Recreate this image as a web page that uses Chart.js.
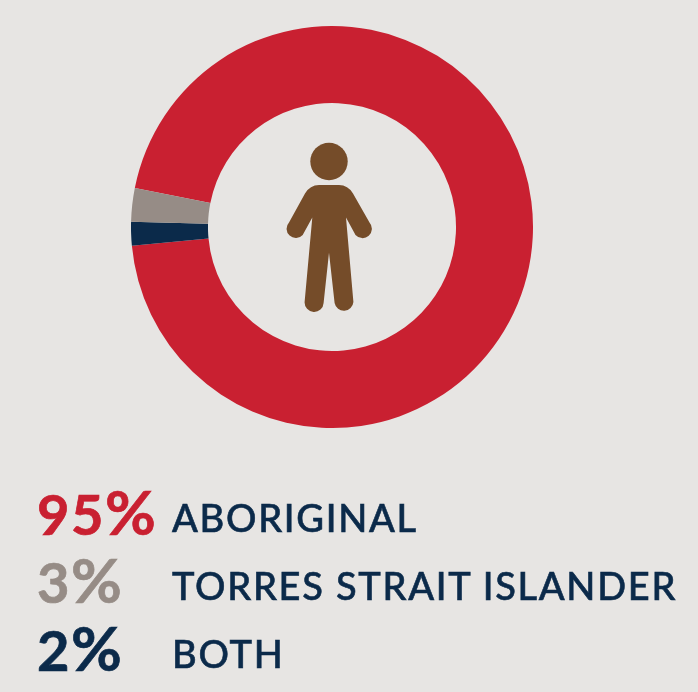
<!DOCTYPE html>
<html>
<head>
<meta charset="utf-8">
<script src="https://cdn.jsdelivr.net/npm/chart.js@4"></script>
<style>
  html, body { margin: 0; padding: 0; background: #e7e5e3; }
  #wrap { position: relative; width: 698px; height: 692px; overflow: hidden; }
  #donut { position: absolute; left: 131px; top: 26px; }
  #person { position: absolute; left: 0; top: 0; }
  .pct, .name { position: absolute; white-space: nowrap; line-height: 1; font-family: Lato, sans-serif; }
  .pct { left: 37px; font-size: 56px; font-weight: 700; letter-spacing: 1.5px; -webkit-text-stroke: 0.7px currentColor; }
  .pct span { font-size: 62px; letter-spacing: 0; }
  .name { left: 172px; font-size: 38px; font-weight: 500; color: #0b2a4a; letter-spacing: 1.7px; -webkit-text-stroke: 0.6px currentColor; }
</style>
</head>
<body>
<div id="wrap">
  <canvas id="donut" width="402" height="402"></canvas>
  <svg id="person" width="698" height="692">
    <circle cx="329" cy="161.5" r="18.7" fill="#754c29"/>
    <path fill="#754c29" d="M319 185 L339 185 Q348 185 353 193.5 L369.5 222.5 A8.6 8.6 0 0 1 355.5 235 L346 217.5 L353.4 302 A9.5 9.5 0 0 1 334.6 303 L329 252.7 L323.6 303 A9.5 9.5 0 0 1 304.6 302 L312.3 217.5 L302.7 235 A8.6 8.6 0 0 1 289 222.5 L305 193.5 Q310 185 319 185 Z"/>
  </svg>
</div>
<script>
// slices in drawing order, clockwise from the rotation angle
const categories = ['ABORIGINAL', 'BOTH', 'TORRES STRAIT ISLANDER'];
const labelValues = [95, 2, 3];
// arc sizes as measured on the picture, the printed labels are rounded
const sliceValues = [95.4, 1.9, 2.7];
const colors = ['#c92031', '#0b2a4a', '#968c86'];

new Chart(document.getElementById('donut'), {
    type: 'doughnut',
    data: {
        labels: categories,
        datasets: [{
            data: sliceValues,
            backgroundColor: colors,
            borderWidth: 0
        }]
    },
    options: {
        responsive: false,
        animation: false,
        rotation: -78.8,
        cutout: '61.7%',
        plugins: {
            legend: { display: false },
            tooltip: { enabled: false }
        }
    }
});

// legend rows, biggest share first
const rowTops = [480, 548, 616];
const wrap = document.getElementById('wrap');
const order = labelValues.map((v, i) => i).sort((a, b) => labelValues[b] - labelValues[a]);
order.forEach((idx, row) => {
    const pct = document.createElement('div');
    pct.className = 'pct';
    pct.style.top = rowTops[row] + 'px';
    pct.style.color = colors[idx];
    pct.innerHTML = labelValues[idx] + '<span>%</span>';
    wrap.appendChild(pct);

    const name = document.createElement('div');
    name.className = 'name';
    name.style.top = (rowTops[row] + 18) + 'px';
    name.textContent = categories[idx];
    wrap.appendChild(name);
});
</script>
</body>
</html>
